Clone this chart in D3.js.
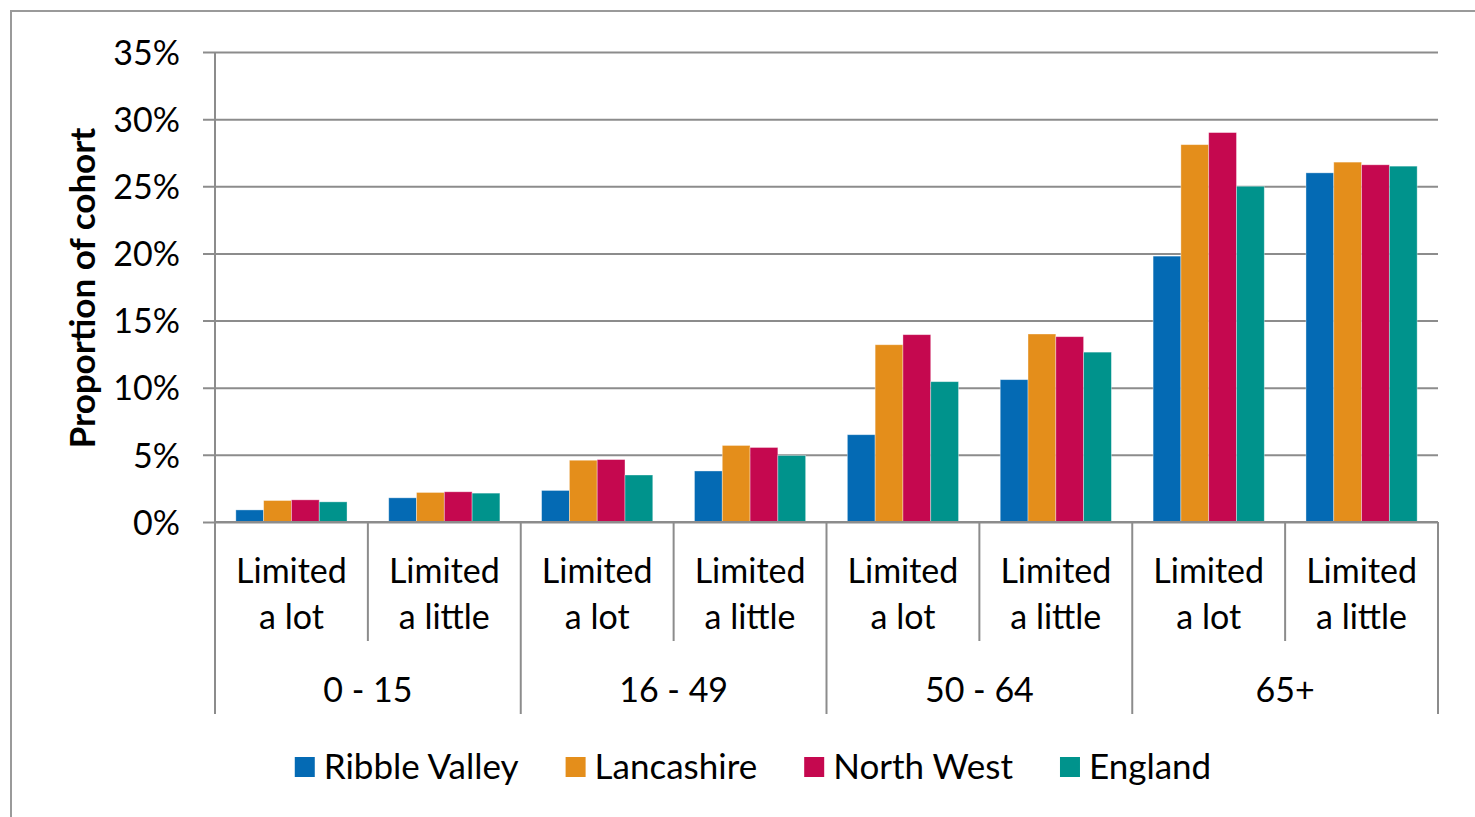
<!DOCTYPE html>
<html><head><meta charset="utf-8">
<script src="https://cdn.jsdelivr.net/npm/d3@7"></script>
<style>
html,body{margin:0;padding:0;background:#fff;}
svg{display:block;}
svg text{font-family:Lato, "Noto Sans", sans-serif;}
</style></head>
<body>
<svg id="chart" width="1475" height="817"></svg>
<script>
const groups = ["0 - 15","16 - 49","50 - 64","65+"];
const subCats = ["Limited a lot","Limited a little"];
const seriesNames = ["Ribble Valley","Lancashire","North West","England"];
const seriesColors = ["#046ab4","#e48e1b","#c5084f","#00938c"];
const ribbleValley = [0.9, 1.8, 2.35, 3.8, 6.5, 10.6, 19.8, 26.0];
const lancashire   = [1.6, 2.2, 4.6, 5.7, 13.2, 14.0, 28.1, 26.8];
const northWest    = [1.65, 2.25, 4.65, 5.55, 13.95, 13.8, 29.0, 26.6];
const england      = [1.5, 2.15, 3.5, 4.95, 10.45, 12.65, 25.0, 26.5];
const yTicks = [0,5,10,15,20,25,30,35];
const yTitle = "Proportion of cohort";

const seriesValues = [ribbleValley, lancashire, northWest, england];
const cats = [];
groups.forEach(g => subCats.forEach(s => cats.push({g, s, key: g + "|" + s})));

const svg = d3.select("#chart");
const gridCol = "#8c8c8c";
const L = 215, R = 1438, T = 52, B = 522;
const FS = 34;

svg.append("rect").attr("x",11).attr("y",11).attr("width",1500).attr("height",900)
  .attr("fill","none").attr("stroke","#9a9a9a").attr("stroke-width",2);

const x = d3.scaleBand().domain(cats.map(c=>c.key)).range([L,R]).paddingInner(0).paddingOuter(0);
const xs = d3.scaleBand().domain(seriesNames).range([0,x.bandwidth()]).paddingInner(0).paddingOuter(0.75);
const y = d3.scaleLinear().domain([0,35]).range([B,T]);

// gridlines + y axis
const yAxis = d3.axisLeft(y).tickValues(yTicks).tickFormat(d=>d+"%").tickSize(-(R-L)).tickPadding(35);
const ya = svg.append("g").attr("transform",`translate(${L},0)`).call(yAxis)
  .attr("font-family",null).attr("font-size",null);
ya.select(".domain").remove();
ya.selectAll(".tick line").attr("stroke",gridCol).attr("stroke-width",2).attr("x1",-12);
ya.selectAll(".tick text").attr("font-size",FS).attr("fill","#000").attr("dy","0.36em");

// bars
seriesNames.forEach((name,si)=>{
  svg.append("g").selectAll("rect").data(cats.map((c,i)=>({c, v: seriesValues[si][i]})))
    .join("rect")
    .attr("x",d=>x(d.c.key)+xs(name))
    .attr("width",xs.bandwidth())
    .attr("y",d=>y(d.v))
    .attr("height",d=>B-y(d.v))
    .attr("fill",seriesColors[si])
    .attr("stroke","rgba(255,255,255,0.45)").attr("stroke-width",0.8);
});

// axis lines
svg.append("line").attr("x1",L).attr("x2",L).attr("y1",T).attr("y2",714).attr("stroke",gridCol).attr("stroke-width",2);
svg.append("line").attr("x1",L).attr("x2",R).attr("y1",B).attr("y2",B).attr("stroke",gridCol).attr("stroke-width",2);

// category separators
cats.forEach((c,i)=>{
  const xb = x(c.key) + x.bandwidth();
  const isGroupEnd = (i % subCats.length) === subCats.length-1;
  svg.append("line").attr("x1",xb).attr("x2",xb).attr("y1",B).attr("y2",isGroupEnd?714:641)
    .attr("stroke",gridCol).attr("stroke-width",2);
});

// category labels
cats.forEach(c=>{
  const cx = x(c.key) + x.bandwidth()/2;
  const words = c.s.split(" ");
  const lines = [words[0], words.slice(1).join(" ")];
  const t = svg.append("text").attr("text-anchor","middle").attr("font-size",FS).attr("fill","#000");
  lines.forEach((ln,k)=>{
    t.append("tspan").attr("x",cx).attr("y",571 + k*46).attr("dy","0.35em").text(ln);
  });
});
// group labels
groups.forEach((g,gi)=>{
  const x0 = x(g+"|"+subCats[0]);
  const x1 = x(g+"|"+subCats[subCats.length-1]) + x.bandwidth();
  svg.append("text").attr("x",(x0+x1)/2).attr("y",690).attr("dy","0.35em")
    .attr("text-anchor","middle").attr("font-size",FS).attr("fill","#000").text(g);
});

// y title
svg.append("text").attr("transform","translate(83,288) rotate(-90)")
  .attr("text-anchor","middle").attr("dy","0.35em").attr("font-size",35).attr("font-weight","bold")
  .attr("fill","#000").text(yTitle);

// legend
const lg = svg.append("g");
let lx = 0;
seriesNames.forEach((n,i)=>{
  const it = lg.append("g").attr("transform",`translate(${lx},0)`);
  it.append("rect").attr("x",0).attr("y",757).attr("width",20).attr("height",20).attr("fill",seriesColors[i]);
  const tx = it.append("text").attr("x",29).attr("y",767).attr("dy","0.35em").attr("font-size",35).attr("fill","#000").text(n);
  const w = tx.node().getComputedTextLength();
  lx += 29 + w + 47;
});
const totalW = lx - 47;
lg.attr("transform",`translate(${753 - totalW/2},0)`);
</script>
</body></html>
